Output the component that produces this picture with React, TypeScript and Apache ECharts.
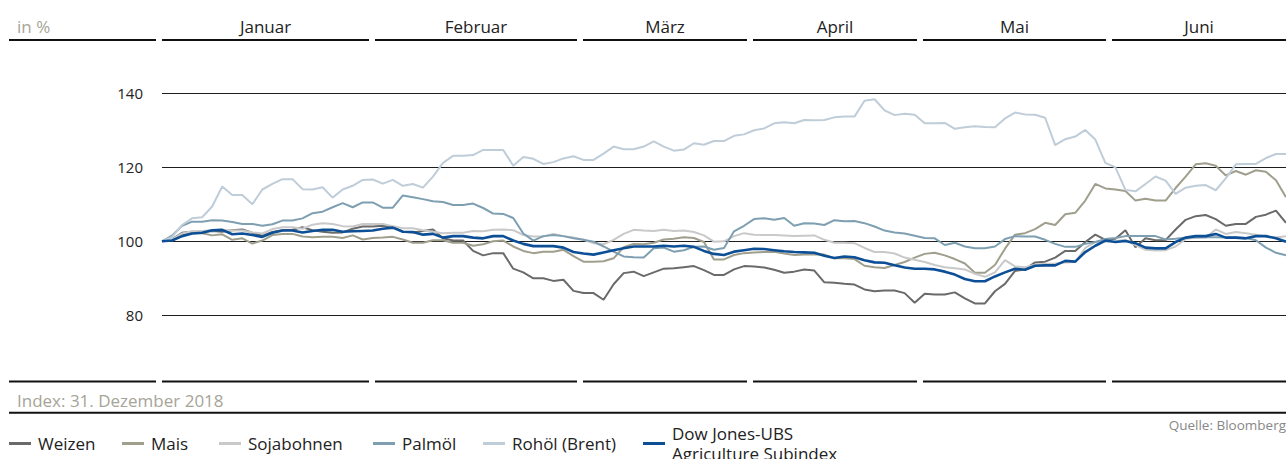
import React, { useEffect, useRef } from "react";
import * as echarts from "echarts";

const seriesNames = ["Weizen", "Mais", "Sojabohnen", "Palmöl", "Rohöl (Brent)", "Dow Jones-UBS Agriculture Subindex"];
const months = ["Januar", "Februar", "März", "April", "Mai", "Juni"];
const yTicks = [80, 100, 120, 140];

const weizen = [
  100, 100.5, 102.3, 102.6, 102.6, 102.8, 102.6, 103, 103.2, 102.3,
  101.5, 102.5, 103, 103.1, 103.8, 103, 102.6, 102.3, 102.4, 103.4,
  104, 104, 104.2, 103.9, 102.6, 102.4, 102.8, 103.2, 100.8, 100.2,
  100.2, 97.4, 96.2, 96.8, 96.8, 92.6, 91.6, 90, 90, 89.3,
  89.6, 86.6, 86, 86, 84.2, 88.4, 91.4, 91.8, 90.6, 91.6,
  92.6, 92.7, 93, 93.3, 92.2, 90.9, 90.9, 92.4, 93.3, 93.2,
  92.9, 92.3, 91.5, 91.8, 92.4, 92.1, 88.9, 88.8, 88.5, 88.3,
  87, 86.5, 86.7, 86.7, 86, 83.4, 85.8, 85.6, 85.6, 86.2,
  84.6, 83.2, 83.2, 86.5, 88.5, 92, 92.4, 94.3, 94.5, 95.6,
  97.4, 97.4, 99.8, 101.8, 100.4, 100.7, 103, 98.4, 100.8, 100.3,
  100.3, 103.2, 105.8, 106.8, 107.1, 106, 104.2, 104.7, 104.7, 106.6,
  107.2, 108.3, 105,
];
const mais = [
  100, 100.4, 101.7, 102.2, 102.2, 101.6, 101.9, 100.4, 100.8, 99.4,
  100.2, 101.7, 102, 102, 101.3, 101.1, 101.2, 101.2, 100.9, 101.6,
  100.5, 100.9, 101, 101.2, 100.5, 99.6, 99.6, 100.3, 100.3, 99.6,
  99.6, 98.8, 99.2, 100, 100.2, 98.6, 97.4, 96.8, 97.2, 97.2,
  97.7, 96, 94.5, 94.5, 94.6, 95.4, 98.4, 99.3, 99.2, 99.6,
  100.5, 100.7, 101.1, 100.9, 99.8, 95.1, 95.1, 96.3, 96.8, 97,
  97.1, 97.2, 96.7, 96.3, 96.4, 96.5, 96.4, 95.4, 95.4, 95.2,
  93.4, 93, 92.8, 93.6, 94.4, 95.6, 96.6, 96.9, 96.2, 95.2,
  94, 91.5, 91.5, 93.6, 98, 101.8, 102.2, 103.3, 105, 104.4,
  107.3, 107.7, 111, 115.5, 114.3, 114, 113.6, 111, 111.5, 111,
  111, 114.4, 117.5, 120.8, 121.1, 120.4, 117.8, 119, 118, 119.2,
  118.8, 116.5, 111.9,
];
const soja = [
  100, 100.5, 102.1, 102.7, 102.8, 103, 103.1, 102.9, 102.9, 102.4,
  102.1, 103.3, 103.8, 103.8, 103.4, 104.5, 104.9, 104.7, 104.1, 104,
  104.7, 104.7, 104.7, 104.1, 103.5, 103.5, 103, 102.6, 102.2, 102.3,
  102.3, 102.8, 102.7, 103.1, 103.2, 103, 101.7, 101.3, 101.3, 102,
  101.4, 101, 100.4, 99.5, 99.2, 100.4, 102, 103.1, 102.9, 102.8,
  103.1, 102.8, 102.9, 102.5, 101.6, 99.9, 100, 101.4, 102.2, 101.8,
  101.7, 101.7, 101.6, 101.4, 101.5, 101.6, 100.4, 99.6, 99.6, 99.5,
  98.2, 97.1, 97.1, 96.7, 95.6, 95, 94.4, 93.6, 93, 92.7,
  92.4, 91.2, 90.4, 91.6, 94.9, 93.2, 93, 93.7, 93.9, 94,
  94.3, 94.4, 98.2, 99.8, 99.9, 100, 100.4, 99, 97.7, 97.5,
  97.6, 98.6, 100.6, 101, 101, 103.2, 102, 102.5, 102.2, 101.8,
  101.3, 101, 101.4,
];
const palm = [
  100, 101.5, 104.2, 105.3, 105.3, 105.7, 105.6, 105.2, 104.7, 104.7,
  104.2, 104.6, 105.6, 105.6, 106.2, 107.6, 108, 109.2, 110.3, 109.2,
  110.5, 110.5, 109.1, 109.1, 112.4, 111.9, 111.4, 110.8, 110.6, 109.8,
  109.8, 110.2, 109, 107.5, 107.4, 106.3, 102.1, 100.2, 101.4, 101.7,
  101.4, 100.8, 100.4, 99.9, 98.6, 97.2, 95.9, 95.7, 95.6, 98.1,
  98.3, 97.2, 97.6, 98.5, 98.6, 97.7, 98.2, 102.7, 104.2, 106,
  106.2, 105.8, 106.3, 104.2, 104.9, 104.8, 104.4, 105.7, 105.4, 105.5,
  104.9, 104, 102.9, 102.4, 102.1, 101.5, 100.9, 100.8, 99, 99.6,
  98.6, 98.1, 98.1, 98.6, 100.6, 101.4, 101.3, 101.3, 100.4, 99.3,
  98.5, 98.5, 99.3, 99.8, 100.6, 100.9, 101.4, 101.4, 101.4, 101.4,
  100.5, 100.7, 101, 101, 101.1, 101.1, 101, 101, 100.9, 100.3,
  98.3, 96.9, 96.2,
];
const rohoel = [
  100, 101.1, 104.4, 106.2, 106.5, 109.4, 114.8, 112.5, 112.5, 110,
  114, 115.5, 116.8, 116.8, 114.1, 114, 114.6, 111.8, 114, 115,
  116.6, 116.7, 115.6, 116.6, 115, 115.5, 114.5, 117.5, 121.2, 123.1,
  123.1, 123.3, 124.7, 124.7, 124.7, 120.4, 122.8, 122.3, 120.9, 121.4,
  122.4, 123, 122, 122, 123.7, 125.6, 124.9, 124.9, 125.6, 127,
  125.6, 124.5, 124.8, 126.5, 126.1, 127.1, 127.1, 128.5, 128.9, 130,
  130.5, 131.9, 132.2, 131.9, 132.8, 132.7, 132.8, 133.5, 133.7, 133.7,
  138, 138.4, 135.4, 134.1, 134.5, 134.2, 131.9, 131.9, 132, 130.4,
  130.8, 131.1, 130.9, 130.8, 133.2, 134.8, 134.3, 134.2, 133.4, 126,
  127.6, 128.3, 130.1, 127.5, 121.2, 120, 113.9, 113.5, 115.5, 117.5,
  116.4, 112.8, 114.5, 115, 115.2, 113.8, 117, 120.8, 120.9, 120.9,
  122.5, 123.6, 123.6,
];
const djubs = [
  100, 100.2, 101.4, 102.1, 102.3, 103, 103.1, 101.9, 102.1, 101.7,
  101.2, 102.3, 102.9, 102.9, 102.4, 102.8, 103.1, 103.1, 102.6, 102.7,
  102.8, 102.9, 103.4, 103.7, 102.6, 102.5, 101.8, 102, 101, 101.4,
  101.4, 101, 100.8, 101.4, 101.4, 100.2, 99.3, 98.7, 98.7, 98.7,
  98.3, 97.1, 96.7, 96.4, 97, 97.6, 98.1, 98.6, 98.6, 98.6,
  98.8, 98.6, 98.8, 98.5, 97.4, 96.6, 96.3, 97.2, 97.6, 98,
  97.9, 97.6, 97.3, 97.1, 97, 96.9, 96.1, 95.5, 95.9, 95.7,
  94.9, 94.3, 94.2, 93.5, 92.9, 92.6, 92.6, 92.4, 91.8, 91,
  89.8, 89.2, 89.2, 90.5, 91.6, 92.6, 92.3, 93.4, 93.5, 93.5,
  94.7, 94.5, 97.1, 98.8, 100.2, 99.8, 100.1, 99.5, 98.3, 98.1,
  98.1, 99.8, 101, 101.4, 101.4, 102, 101, 101, 100.8, 101.4,
  101.4, 100.8, 99.9,
];

const seriesData = [weizen, mais, soja, palm, rohoel, djubs];
const seriesColors = ["#6a6a6a", "#a09e8c", "#c9c9c9", "#7e9fb1", "#bfcdd9", "#0d4f97"];
const days = weizen.map((_, i) => String(i + 1));

const FONT = "'Open Sans', 'Noto Sans', sans-serif";

export default function App() {
  const ref = useRef<HTMLDivElement>(null);
  useEffect(() => {
    if (!ref.current) return;
    const chart = echarts.init(ref.current, null, { renderer: "svg" });

    const segs = [[9, 156], [162, 369], [375, 577], [583, 747], [753, 917], [923, 1106], [1112, 1286]];
    const legendX = [9, 122, 219, 373, 483, 643];
    const graphics: any[] = [];
    segs.forEach(([a, b]) => {
      graphics.push({ type: "line", shape: { x1: a, y1: 40, x2: b, y2: 40 }, style: { stroke: "#111", lineWidth: 2 } });
      graphics.push({ type: "line", shape: { x1: a, y1: 381.5, x2: b, y2: 381.5 }, style: { stroke: "#111", lineWidth: 2 } });
    });
    months.forEach((m, k) => {
      const [a, b] = segs[k + 1];
      graphics.push({
        type: "text", x: (a + b) / 2, y: 26.5,
        style: { text: m, fill: "#222", font: `17px ${FONT}`, align: "center", verticalAlign: "middle" },
      });
    });
    graphics.push({ type: "text", x: 17, y: 26.5, style: { text: "in %", fill: "#a6a497", font: `17px ${FONT}`, align: "left", verticalAlign: "middle" } });
    graphics.push({ type: "text", x: 17, y: 400, style: { text: "Index: 31. Dezember 2018", fill: "#a6a497", font: `17px ${FONT}`, align: "left", verticalAlign: "middle" } });
    graphics.push({ type: "line", shape: { x1: 9, y1: 412.7, x2: 1286, y2: 412.7 }, style: { stroke: "#111", lineWidth: 2 } });
    graphics.push({ type: "text", x: 1286, y: 425, style: { text: "Quelle: Bloomberg", fill: "#888", font: `13.5px ${FONT}`, align: "right", verticalAlign: "middle" } });

    const option: any = {
      animation: false,
      backgroundColor: "#fff",
      grid: { left: 162, right: 0, top: 56.3, bottom: 106.7, containLabel: false },
      xAxis: {
        type: "category", data: days, boundaryGap: false, show: false,
      },
      yAxis: {
        type: "value", min: 70, max: 150, interval: 10,
        axisLine: { show: false }, axisTick: { show: false },
        axisLabel: {
          margin: 19, color: "#222", fontSize: 15, fontFamily: FONT,
          formatter: (v: number) => (yTicks.includes(v) ? String(v) : ""),
        },
        splitLine: { show: true, lineStyle: { color: ["rgba(0,0,0,0)", "#1e1e1e"], width: 1 } },
      },
      legend: seriesNames.map((n, k) => ({
        data: [n], left: legendX[k], top: k === 5 ? 421 : 433.5, padding: 0,
        icon: "rect", itemWidth: 22, itemHeight: 3, selectedMode: false,
        formatter: k === 5 ? "Dow Jones-UBS\nAgriculture Subindex" : "{name}",
        textStyle: {
          fontFamily: FONT, fontSize: 17, color: "#222",
          lineHeight: 20,
          padding: k === 5 ? [0, 0, 5, 2] : [0, 0, 0, 2],
        },
      })),
      series: seriesNames.map((n, k) => ({
        name: n, type: "line", data: seriesData[k], showSymbol: false, symbol: "none",
        color: seriesColors[k],
        lineStyle: { color: seriesColors[k], width: k === 5 ? 2.6 : 2 },
        z: k === 5 ? 10 : 2,
      })),
      graphic: graphics,
    };
    chart.setOption(option);
    return () => chart.dispose();
  }, []);
  return <div ref={ref} style={{ position: "fixed", left: 0, top: 0, width: 1286, height: 459, background: "#fff" }} />;
}
